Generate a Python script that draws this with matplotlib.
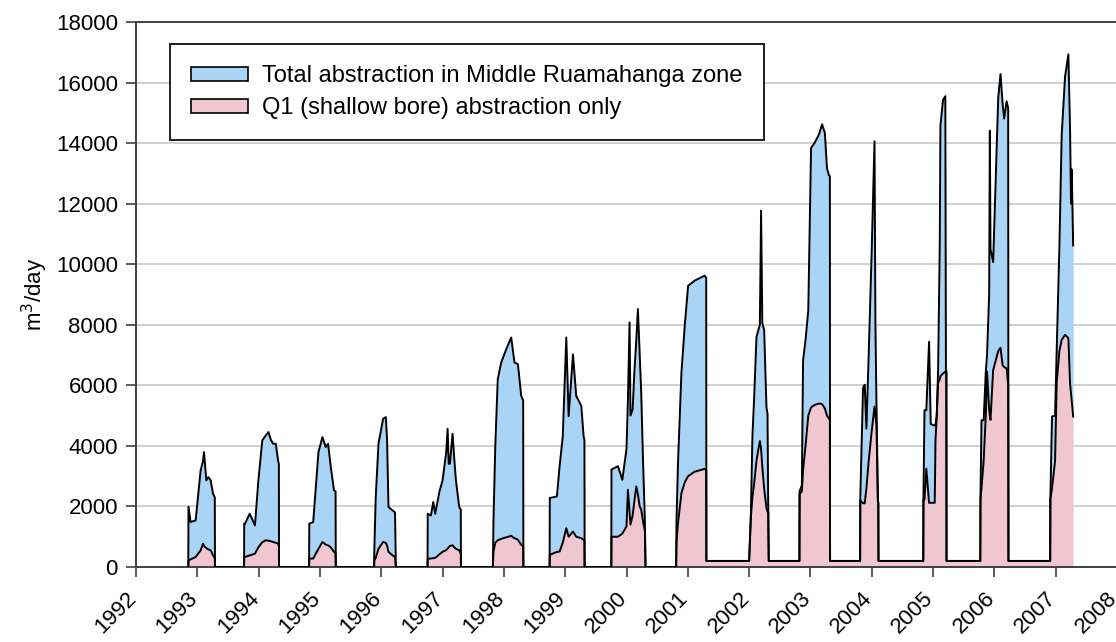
import numpy as np
import matplotlib.pyplot as plt
import matplotlib.transforms as mtransforms
from matplotlib.patches import Patch

plt.rcParams['font.family'] = ['Liberation Sans', 'DejaVu Sans']

# ------------------------------------------------------------------------------------------
# data (decimal year, m3/day)

yr = [
    # 1993
    1992.853, 1992.856, 1992.89, 1992.973, 1993.054, 1993.093, 1993.109, 1993.147, 1993.18, 1993.218, 1993.256, 1993.285, 1993.288,
    # 1994
    1993.762, 1993.765, 1993.778, 1993.854, 1993.94, 1993.996, 1994.06, 1994.116, 1994.16, 1994.20, 1994.235, 1994.28, 1994.317, 1994.33, 1994.333,
    # 1995
    1994.823, 1994.826, 1994.89, 1994.976, 1995.04, 1995.095, 1995.133, 1995.177, 1995.23, 1995.255, 1995.258,
    # 1996
    1995.884, 1995.886, 1995.91, 1995.955, 1996.03, 1996.075, 1996.095, 1996.118, 1996.184, 1996.225, 1996.238,
    # 1997
    1996.755, 1996.758, 1996.81, 1996.848, 1996.88, 1996.95, 1997.0, 1997.06, 1997.082, 1997.10, 1997.12, 1997.163, 1997.19, 1997.218, 1997.272, 1997.297, 1997.30,
    # 1998
    1997.82, 1997.83, 1997.86, 1997.90, 1997.956, 1998.038, 1998.12, 1998.15, 1998.174, 1998.229, 1998.283, 1998.315, 1998.318,
    # 1999
    1998.746, 1998.749, 1998.865, 1998.909, 1998.96, 1999.018, 1999.056, 1999.127, 1999.18, 1999.263, 1999.30, 1999.314, 1999.317,
    # 2000
    1999.752, 1999.755, 1999.861, 1999.932, 2000.0, 2000.023, 2000.05, 2000.065, 2000.10, 2000.13, 2000.16, 2000.186, 2000.215, 2000.24, 2000.27, 2000.30, 2000.31,
    # 2001
    2000.81, 2000.815, 2000.84, 2000.896, 2000.95, 2001.005, 2001.114, 2001.22, 2001.275, 2001.30, 2001.303,
    # 2002
    2002.0, 2002.027, 2002.054, 2002.08, 2002.12, 2002.152, 2002.175, 2002.195, 2002.215, 2002.245, 2002.283, 2002.30, 2002.312, 2002.32,
    # 2003
    2002.82, 2002.823, 2002.86, 2002.88, 2002.92, 2002.965, 2003.01, 2003.066, 2003.14, 2003.19, 2003.235, 2003.27, 2003.30, 2003.317, 2003.32,
    # 2004
    2003.81, 2003.813, 2003.858, 2003.885, 2003.913, 2003.95, 2004.0, 2004.045, 2004.06, 2004.077, 2004.10, 2004.107, 2004.11,
    # 2005
    2004.84, 2004.843, 2004.86, 2004.89, 2004.935, 2004.962, 2005.027, 2005.04, 2005.06, 2005.082, 2005.109, 2005.12, 2005.163, 2005.20, 2005.21, 2005.217, 2005.22,
    # 2006
    2005.77, 2005.773, 2005.79, 2005.825, 2005.86, 2005.88, 2005.915, 2005.926, 2005.937, 2005.98, 2006.063, 2006.10, 2006.134, 2006.16, 2006.2, 2006.225, 2006.23,
    # 2007
    2006.91, 2006.913, 2006.94, 2006.99, 2007.016, 2007.06, 2007.098, 2007.153, 2007.207, 2007.234, 2007.25, 2007.262, 2007.275, 2007.285,
]

total = [
    0, 1990, 1485, 1540, 3190, 3500, 3795, 2860, 2970, 2860, 2420, 2300, 0,
    0, 1430, 1430, 1760, 1375, 2860, 4180, 4345, 4455, 4200, 4070, 4070, 3520, 3400, 0,
    0, 1430, 1485, 3795, 4290, 3960, 4070, 3300, 2530, 2500, 0,
    0, 500, 2310, 4070, 4895, 4950, 4200, 1980, 1870, 1800, 0,
    0, 1760, 1700, 2145, 1760, 2500, 2860, 3800, 4565, 3410, 3410, 4400, 3600, 2860, 1980, 1900, 0,
    0, 1500, 4000, 6200, 6750, 7190, 7580, 7100, 6750, 6700, 5650, 5500, 0,
    0, 2280, 2330, 3330, 4300, 7580, 4980, 7020, 5650, 5320, 4320, 4200, 0,
    0, 3220, 3330, 2880, 3900, 5500, 8080, 5000, 5200, 6500, 7500, 8520, 7000, 5760, 3500, 1500, 0,
    0, 1500, 3440, 6420, 7970, 9290, 9460, 9570, 9620, 9550, 200,
    200, 1610, 4330, 5500, 7600, 7830, 8000, 11770, 8050, 7830, 5270, 5050, 1830, 200,
    200, 2500, 2700, 6830, 7500, 8480, 13840, 14000, 14290, 14620, 14340, 13170, 12950, 12900, 200,
    200, 2300, 5910, 6020, 4570, 7000, 10500, 14060, 8000, 5400, 2220, 2100, 200,
    200, 2230, 5180, 5180, 7440, 4720, 4670, 4700, 5000, 6500, 10620, 14580, 15430, 15550, 6450, 6450, 200,
    200, 2250, 4850, 4850, 6440, 7000, 9000, 14410, 10500, 10070, 15500, 16280, 15320, 14810, 15380, 15150, 200,
    200, 2250, 4970, 5000, 7130, 10530, 14270, 16200, 16930, 14500, 12000, 13130, 11800, 10620,
]

q1 = [
    0, 220, 250, 330, 550, 770, 700, 620, 580, 550, 385, 300, 0,
    0, 300, 330, 380, 440, 650, 820, 880, 870, 850, 825, 800, 770, 700, 0,
    0, 275, 280, 600, 825, 740, 715, 650, 495, 450, 0,
    0, 220, 300, 600, 825, 800, 700, 500, 385, 330, 0,
    0, 275, 280, 290, 300, 420, 500, 560, 605, 650, 700, 715, 650, 600, 550, 450, 0,
    0, 500, 800, 880, 930, 980, 1030, 980, 950, 900, 730, 700, 0,
    0, 400, 500, 510, 800, 1280, 1000, 1170, 1000, 950, 900, 850, 0,
    0, 1000, 1000, 1100, 1340, 2550, 1800, 1400, 1700, 2200, 2660, 2400, 2000, 1890, 1500, 1200, 0,
    0, 800, 1450, 2440, 2800, 3000, 3150, 3210, 3240, 3200, 200,
    200, 1610, 2300, 2720, 3500, 3900, 4160, 3900, 3300, 2600, 1940, 1830, 1830, 200,
    200, 2400, 2500, 3200, 4000, 5000, 5270, 5350, 5400, 5380, 5240, 5000, 4900, 4850, 200,
    200, 2200, 2110, 2100, 2600, 3500, 4500, 5300, 5000, 4700, 2220, 2100, 200,
    200, 2230, 2230, 3250, 2120, 2120, 2120, 4200, 5000, 6080, 6200, 6300, 6390, 6450, 6450, 6450, 200,
    200, 2250, 2600, 3500, 5000, 6450, 5200, 5000, 4860, 6500, 7130, 7240, 6670, 6600, 6560, 6000, 200,
    200, 2250, 2600, 3500, 6080, 7130, 7500, 7670, 7560, 6080, 5750, 5500, 5200, 4970,
]

years = list(range(1992, 2009))
yticks = list(range(0, 18001, 2000))

labels = ['Total abstraction in Middle Ruamahanga zone', 'Q1 (shallow bore) abstraction only']
blue = '#aad4f6'
pink = '#f0c6d1'

# ------------------------------------------------------------------------------------------

t = np.array(yr)
tot = np.array(total)
q = np.array(q1)

fig = plt.figure(figsize=(11.16, 6.42), dpi=100, facecolor='white')
ax = fig.add_axes([136 / 1116, 1 - 567 / 642, 981 / 1116, 545 / 642])

ax.fill_between(t, q, tot, color=blue, lw=0, zorder=2)
ax.fill_between(t, 0, q, color=pink, lw=0, zorder=2)
ax.plot(t, tot, color='black', lw=1.4, zorder=3)
ax.plot(t, q, color='black', lw=1.4, zorder=3)

ax.set_xlim(1992, 2008)
ax.set_ylim(0, 18000)
ax.set_xticks(years)
ax.set_xticklabels([str(y) for y in years], rotation=45, ha='right', rotation_mode='anchor', fontsize=16)
ax.set_yticks(yticks)
ax.set_yticklabels([str(v) for v in yticks], fontsize=16)
ax.tick_params(direction='out', length=7, width=1.2, color='#404040', pad=6)
ax.tick_params(axis='x', pad=8)

# shift the rotated year labels a bit to the left, like the original
offset = mtransforms.ScaledTranslation(-0.1, 0, fig.dpi_scale_trans)
for lab in ax.get_xticklabels():
    lab.set_transform(lab.get_transform() + offset)

ax.grid(axis='y', color='#c8c8c8', lw=1.2, zorder=0)
ax.set_axisbelow(True)
for s in ['left', 'bottom', 'top', 'right']:
    ax.spines[s].set_color('#404040')
    ax.spines[s].set_linewidth(1.4)

ax.set_ylabel('m$^3$/day', fontsize=16, labelpad=4)

handles = [Patch(facecolor=blue, edgecolor='black', lw=1.2),
           Patch(facecolor=pink, edgecolor='black', lw=1.2)]
leg = ax.legend(handles, labels, loc='upper left', bbox_to_anchor=(170 / 1116, 1 - 44 / 642),
                bbox_transform=fig.transFigure, borderaxespad=0, fontsize=17, fancybox=False,
                framealpha=1, edgecolor='#202020', handlelength=2.4, handleheight=0.5,
                labelspacing=0.42, borderpad=0.9, handletextpad=0.6)
leg.get_frame().set_linewidth(1.4)

fig.savefig('out.png', dpi=100, facecolor='white')
